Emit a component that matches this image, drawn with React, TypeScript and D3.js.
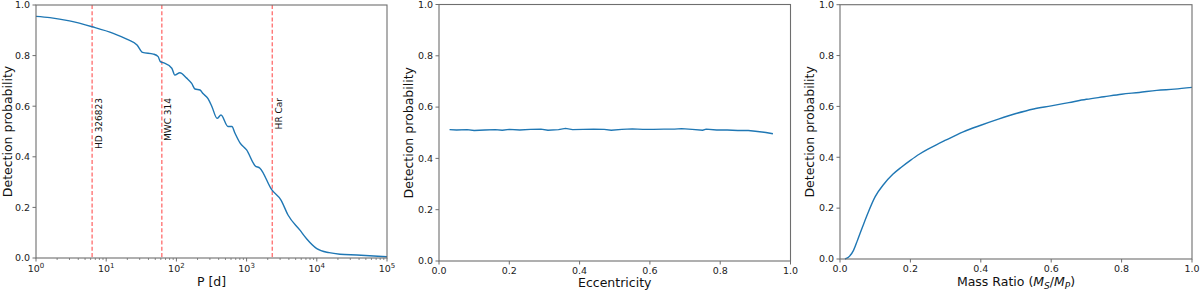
import React from 'react';
import * as d3 from 'd3';

// period panel (log x)
const periodDays = [1, 1.58, 3.0, 6.3, 12.6, 20, 27.5, 33, 47, 55, 59, 65, 86, 95, 112, 140, 165, 184, 217, 239, 282, 321, 380, 432, 543, 617, 684, 805, 1000, 1318, 1549, 2291, 3090, 3890, 5754, 7200, 10000, 15000, 21380, 37150, 100000];
const periodProb = [0.955, 0.95, 0.937, 0.914, 0.888, 0.864, 0.842, 0.813, 0.806, 0.796, 0.776, 0.772, 0.75, 0.723, 0.732, 0.711, 0.69, 0.668, 0.664, 0.65, 0.63, 0.598, 0.552, 0.565, 0.52, 0.52, 0.493, 0.455, 0.427, 0.365, 0.355, 0.269, 0.229, 0.17, 0.11, 0.075, 0.037, 0.021, 0.015, 0.012, 0.005];

const starNames = ['HD 326823', 'MWC 314', 'HR Car'];
const starPeriods = [6.3, 62, 2320];

// eccentricity panel
const eccValues = [0.03, 0.05, 0.08, 0.1, 0.13, 0.16, 0.18, 0.2, 0.23, 0.26, 0.29, 0.31, 0.34, 0.36, 0.38, 0.41, 0.44, 0.47, 0.49, 0.52, 0.55, 0.58, 0.61, 0.64, 0.67, 0.69, 0.72, 0.75, 0.76, 0.79, 0.82, 0.85, 0.88, 0.9, 0.93, 0.95];
const eccProb = [0.512, 0.511, 0.512, 0.509, 0.511, 0.512, 0.51, 0.513, 0.511, 0.513, 0.514, 0.51, 0.512, 0.517, 0.512, 0.513, 0.514, 0.513, 0.51, 0.513, 0.515, 0.513, 0.513, 0.514, 0.514, 0.516, 0.513, 0.51, 0.514, 0.511, 0.511, 0.509, 0.509, 0.506, 0.501, 0.496];

// mass ratio panel
const qValues = [0.014, 0.024, 0.038, 0.05, 0.065, 0.08, 0.1, 0.125, 0.15, 0.175, 0.2, 0.225, 0.25, 0.275, 0.3, 0.35, 0.4, 0.45, 0.5, 0.55, 0.6, 0.65, 0.7, 0.75, 0.8, 0.85, 0.9, 0.95, 1.0];
const qProb = [0, 0.007, 0.033, 0.075, 0.13, 0.183, 0.245, 0.295, 0.333, 0.362, 0.388, 0.412, 0.432, 0.45, 0.467, 0.5, 0.526, 0.55, 0.572, 0.59, 0.602, 0.615, 0.628, 0.638, 0.648, 0.655, 0.663, 0.668, 0.675];

const yTicks = [0, 0.2, 0.4, 0.6, 0.8, 1.0];
const linTicks = [0, 0.2, 0.4, 0.6, 0.8, 1.0];
const logTicks = [0, 1, 2, 3, 4, 5];

const FONT = '"DejaVu Sans", sans-serif';
const AX = '#6e6e6e';
const BLUE = '#1f77b4';

type Box = { left: number; right: number; top: number; bottom: number };

const YAxis = ({ b, y, labelX }: { b: Box; y: d3.ScaleLinear<number, number>; labelX: number }) => (
  <g>
    {yTicks.map(t => (
      <g key={t}>
        <line x1={b.left - 3.5} x2={b.left} y1={y(t)} y2={y(t)} stroke={AX} />
        <text x={b.left - 6} y={y(t)} dy="0.35em" textAnchor="end" fontSize={9.5} fill="#222">{t.toFixed(1)}</text>
      </g>
    ))}
    <text transform={`translate(${labelX},${(b.top + b.bottom) / 2}) rotate(-90)`} textAnchor="middle" fontSize={12.5} fill="#111">Detection probability</text>
  </g>
);

const Frame = ({ b }: { b: Box }) => (
  <rect x={b.left} y={b.top} width={b.right - b.left} height={b.bottom - b.top} fill="none" stroke={AX} strokeWidth={1.1} />
);

export default function App() {
  // panel 1
  const b1: Box = { left: 36, right: 387, top: 5, bottom: 258 };
  const x1 = d3.scaleLog().domain([1, 1e5]).range([b1.left, b1.right]);
  const y1 = d3.scaleLinear().domain([0, 1]).range([b1.bottom, b1.top]);
  const line1 = d3.line<number>().x((d, i) => x1(periodDays[i])).y(d => y1(d)).curve(d3.curveMonotoneX);
  const minor: number[] = [];
  for (let k = 0; k < 5; k++) for (let m = 2; m < 10; m++) minor.push(m * Math.pow(10, k));

  // panel 2
  const b2: Box = { left: 439, right: 790.5, top: 4.5, bottom: 261 };
  const x2 = d3.scaleLinear().domain([0, 1]).range([b2.left, b2.right]);
  const y2 = d3.scaleLinear().domain([0, 1]).range([b2.bottom, b2.top]);
  const line2 = d3.line<number>().x((d, i) => x2(eccValues[i])).y(d => y2(d));

  // panel 3
  const b3: Box = { left: 840, right: 1192, top: 4.7, bottom: 259 };
  const x3 = d3.scaleLinear().domain([0, 1]).range([b3.left, b3.right]);
  const y3 = d3.scaleLinear().domain([0, 1]).range([b3.bottom, b3.top]);
  const line3 = d3.line<number>().x((d, i) => x3(qValues[i])).y(d => y3(d)).curve(d3.curveMonotoneX);

  const linXAxis = (b: Box, x: d3.ScaleLinear<number, number>) =>
    linTicks.map(t => (
      <g key={t}>
        <line x1={x(t)} x2={x(t)} y1={b.bottom} y2={b.bottom + 3.5} stroke={AX} />
        <text x={x(t)} y={b.bottom + 13} textAnchor="middle" fontSize={9.5} fill="#222">{t.toFixed(1)}</text>
      </g>
    ));

  return (
    <svg width={1200} height={293} style={{ position: 'absolute', left: 0, top: 0, background: '#fff' }} fontFamily={FONT}>
      {/* panel 1 */}
      <g>
        <defs>
          <clipPath id="c1"><rect x={b1.left} y={b1.top} width={b1.right - b1.left} height={b1.bottom - b1.top} /></clipPath>
        </defs>
        {starPeriods.map((p, i) => (
          <g key={starNames[i]}>
            <line x1={x1(p)} x2={x1(p)} y1={b1.top} y2={b1.bottom} stroke="#ff3b3b" strokeOpacity={0.75} strokeWidth={1.3} strokeDasharray="4,2.2" />
            <text transform={`translate(${x1(p) + 9.5},98) rotate(-90)`} textAnchor="end" fontSize={9} fill="#111">{starNames[i]}</text>
          </g>
        ))}
        <path d={line1(periodProb) || ''} fill="none" stroke={BLUE} strokeWidth={1.4} clipPath="url(#c1)" />
        <Frame b={b1} />
        {minor.map(m => (
          <line key={m} x1={x1(m)} x2={x1(m)} y1={b1.bottom} y2={b1.bottom + 2} stroke={AX} strokeWidth={0.8} />
        ))}
        {logTicks.map(k => (
          <g key={k}>
            <line x1={x1(Math.pow(10, k))} x2={x1(Math.pow(10, k))} y1={b1.bottom} y2={b1.bottom + 3.5} stroke={AX} />
            <text x={x1(Math.pow(10, k))} y={b1.bottom + 14} textAnchor="middle" fontSize={9.5} fill="#222">
              10<tspan dy={-4} fontSize={7}>{k}</tspan>
            </text>
          </g>
        ))}
        <YAxis b={b1} y={y1} labelX={11.5} />
        <text x={(b1.left + b1.right) / 2} y={286} textAnchor="middle" fontSize={12.5} fill="#111">P [d]</text>
      </g>

      {/* panel 2 */}
      <g>
        <path d={line2(eccProb) || ''} fill="none" stroke={BLUE} strokeWidth={1.4} />
        <Frame b={b2} />
        {linXAxis(b2, x2)}
        <YAxis b={b2} y={y2} labelX={412.5} />
        <text x={(b2.left + b2.right) / 2} y={287} textAnchor="middle" fontSize={12.5} fill="#111">Eccentricity</text>
      </g>

      {/* panel 3 */}
      <g>
        <path d={line3(qProb) || ''} fill="none" stroke={BLUE} strokeWidth={1.4} />
        <Frame b={b3} />
        {linXAxis(b3, x3)}
        <YAxis b={b3} y={y3} labelX={814} />
        <text x={(b3.left + b3.right) / 2} y={286} textAnchor="middle" fontSize={12.5} fill="#111">
          Mass Ratio (<tspan fontStyle="italic">M</tspan><tspan fontSize={9} dy={3} fontStyle="italic">S</tspan><tspan dy={-3}>/</tspan><tspan fontStyle="italic">M</tspan><tspan fontSize={9} dy={3} fontStyle="italic">P</tspan><tspan dy={-3}>)</tspan>
        </text>
      </g>
    </svg>
  );
}
